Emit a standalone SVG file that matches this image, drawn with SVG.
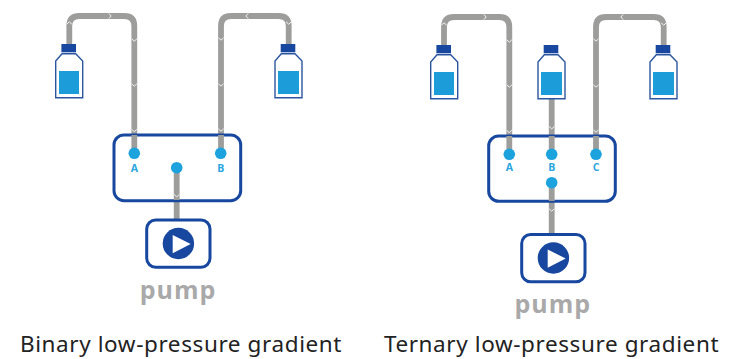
<svg xmlns="http://www.w3.org/2000/svg" xmlns:xlink="http://www.w3.org/1999/xlink" width="754" height="359" viewBox="0 0 754 359">
<style>
.tube{fill:none;stroke:#9d9d9c;stroke-width:5.8}
.chev{fill:none;stroke:#f4f4f4;stroke-width:1}
.box{fill:#fff;stroke:#17479e;stroke-width:3}
.shell{fill:#fff;stroke:#2b569f;stroke-width:1.4}
.cap{fill:#17479e}
.liq{fill:#1c9cd9}
.dot{fill:#1ca3de}
.port{font:bold 10.5px "Open Sans",sans-serif;fill:#2aa5e0;text-anchor:middle}
.pump{font:bold 25px "Open Sans",sans-serif;fill:#a9a9a9;text-anchor:middle;letter-spacing:1px}
.cap-text{font:22.5px "Noto Sans",sans-serif;fill:#222;text-anchor:middle;letter-spacing:.6px}
</style>
<defs>
<path id="dn" class="chev" d="M-2.6,-1.2 L0,1.2 L2.6,-1.2"/>
<path id="up" class="chev" d="M-2.6,1.2 L0,-1.2 L2.6,1.2"/>
<path id="rt" class="chev" d="M-1.2,-2.6 L1.2,0 L-1.2,2.6"/>
<path id="lf" class="chev" d="M1.2,-2.6 L-1.2,0 L1.2,2.6"/>
<g id="bottle">
<rect class="cap" x="6.4" y="0" width="14.6" height="8.3"/>
<path class="shell" d="M0.7,53.7 V17 L7,9.7 H20.7 L27.7,17 V53.7 Z"/>
</g>
<g id="pumpbody">
<rect class="box" width="63.3" height="47.3" rx="9"/>
<circle class="cap" cx="31.7" cy="23.5" r="15.7"/>
<path fill="#fff" d="M26,15 L44,24 L26,33.3 Z"/>
</g>
</defs>
<g id="connectors">
<path class="tube" d="M69.3,44 V26 Q69.3,16 79.3,16 H124.3 Q134.3,16 134.3,26 V153"/>
<path class="tube" d="M288.7,44 V26 Q288.7,16 278.7,16 H231 Q221,16 221,26 V153"/>
<path class="tube" d="M176.7,168 V220"/>
<path class="tube" d="M444,45 V27 Q444,17 454,17 H499.3 Q509.3,17 509.3,27 V154"/>
<path class="tube" d="M663.7,45 V27 Q663.7,17 653.7,17 H606 Q596,17 596,27 V154"/>
<path class="tube" d="M551.7,99 V154"/>
<path class="tube" d="M551.7,183 V234"/>
</g>
<g id="left-bottle"><use xlink:href="#bottle" x="55" y="44"/><rect class="liq" x="59" y="71" width="20" height="23"/></g>
<g id="right-bottle"><use xlink:href="#bottle" x="274.3" y="44"/><rect class="liq" x="278" y="71" width="21" height="23"/></g>
<g id="binary-valve">
<rect class="box" x="114" y="135" width="126.7" height="65.7" rx="10"/>
<path class="tube" d="M134.3,135 V153 M221,135 V153 M176.7,168 V200"/>
<circle class="dot" cx="134.3" cy="153.3" r="5.8"/>
<circle class="dot" cx="220.7" cy="153.3" r="5.8"/>
<circle class="dot" cx="176.7" cy="167.7" r="5.8"/>
<text class="port" x="134.3" y="172">A</text>
<text class="port" x="220.7" y="172">B</text>
</g>
<g id="binary-pump"><use xlink:href="#pumpbody" x="146.7" y="220"/><text class="pump" x="178" y="298.5">pump</text></g>
<g id="ternary-bottle-a"><use xlink:href="#bottle" x="430" y="45"/><rect class="liq" x="434" y="72" width="20" height="23"/></g>
<g id="ternary-bottle-b"><use xlink:href="#bottle" x="537.3" y="45"/><rect class="liq" x="541" y="72" width="21" height="23"/></g>
<g id="ternary-bottle-c"><use xlink:href="#bottle" x="649.3" y="45"/><rect class="liq" x="653" y="72" width="21" height="23"/></g>
<g id="ternary-valve">
<rect class="box" x="488.7" y="136" width="126.6" height="65.3" rx="10"/>
<path class="tube" d="M509.3,136 V154 M551.7,136 V154 M596,136 V154 M551.7,183 V201"/>
<circle class="dot" cx="509.3" cy="154.3" r="5.8"/>
<circle class="dot" cx="551.7" cy="154.3" r="5.8"/>
<circle class="dot" cx="596" cy="154.3" r="5.8"/>
<circle class="dot" cx="551.7" cy="182.7" r="5.8"/>
<text class="port" x="509.3" y="171">A</text>
<text class="port" x="551.7" y="171">B</text>
<text class="port" x="596" y="171">C</text>
</g>
<g id="ternary-pump"><use xlink:href="#pumpbody" x="521.7" y="234.5"/><text class="pump" x="552.7" y="313.3">pump</text></g>
<g id="chevrons">
<use xlink:href="#up" x="69.3" y="23"/><use xlink:href="#rt" x="110" y="16"/>
<use xlink:href="#dn" x="134.3" y="40"/><use xlink:href="#dn" x="134.3" y="85"/><use xlink:href="#dn" x="134.3" y="130.5"/>
<use xlink:href="#dn" x="221" y="39"/><use xlink:href="#dn" x="221" y="85"/><use xlink:href="#dn" x="221" y="130"/>
<use xlink:href="#lf" x="247" y="16"/><use xlink:href="#dn" x="288.7" y="23"/>
<use xlink:href="#dn" x="176.7" y="195.7"/>
<use xlink:href="#up" x="444" y="24"/><use xlink:href="#rt" x="485" y="17"/>
<use xlink:href="#dn" x="509.3" y="41"/><use xlink:href="#dn" x="509.3" y="86"/><use xlink:href="#dn" x="509.3" y="131.5"/>
<use xlink:href="#dn" x="596" y="40"/><use xlink:href="#dn" x="596" y="86"/><use xlink:href="#dn" x="596" y="131"/>
<use xlink:href="#lf" x="622" y="17"/><use xlink:href="#dn" x="663.7" y="24"/>
<use xlink:href="#dn" x="551.7" y="127.7"/><use xlink:href="#dn" x="551.7" y="210"/>
</g>
<text class="cap-text" x="181" y="352">Binary low-pressure gradient</text>
<text class="cap-text" x="551.5" y="352">Ternary low-pressure gradient</text>
</svg>
